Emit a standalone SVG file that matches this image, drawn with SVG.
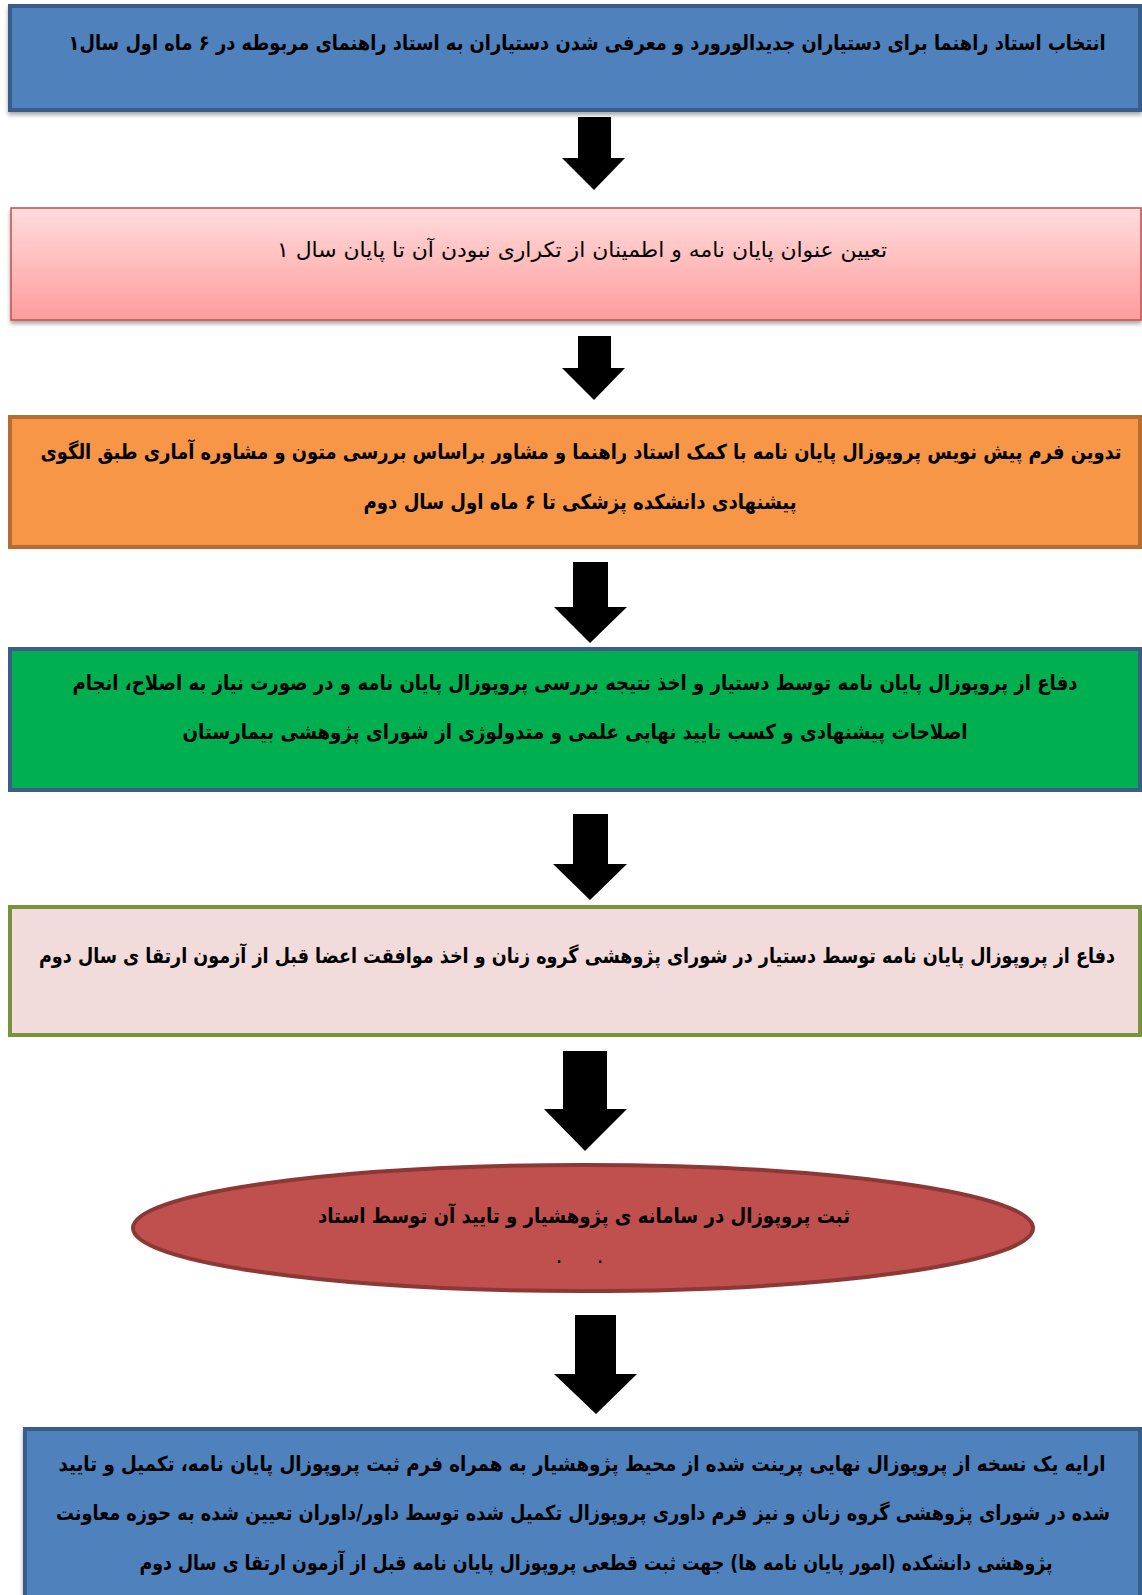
<svg xmlns="http://www.w3.org/2000/svg" width="1142" height="1595" viewBox="0 0 1142 1595">
<defs>
<linearGradient id="pinkGrad" x1="0" y1="0" x2="0" y2="1">
<stop offset="0" stop-color="#ffdcdc"/>
<stop offset="1" stop-color="#ff9c9c"/>
</linearGradient>
<filter id="shadow" x="-5%" y="-10%" width="110%" height="130%">
<feDropShadow dx="0" dy="3" stdDeviation="2" flood-color="#000" flood-opacity="0.35"/>
</filter>
</defs>
<style>
.t{font-family:"DejaVu Sans",sans-serif;font-size:18px;fill:#000;text-anchor:middle;font-weight:bold}
.tr{font-family:"DejaVu Sans",sans-serif;font-size:21px;fill:#000;text-anchor:middle}
.arrow{fill:#000}
</style>
<g id="node1">
<rect x="10" y="6" width="1130" height="104" fill="#4f81bd" stroke="#385d8a" stroke-width="4" filter="url(#shadow)"/>
<text class="t" transform="translate(587,50) scale(1,1.15)" direction="rtl" textLength="1037" lengthAdjust="spacingAndGlyphs">انتخاب استاد راهنما برای دستیاران جدیدالورورد و معرفی شدن دستیاران به استاد راهنمای مربوطه در ۶ ماه اول سال۱</text>
</g>
<g id="node2">
<rect x="11" y="208" width="1130" height="112" fill="url(#pinkGrad)" stroke="#c0504d" stroke-width="1.5" filter="url(#shadow)"/>
<text class="tr" x="582" y="257" direction="rtl" textLength="610" lengthAdjust="spacingAndGlyphs">تعیین عنوان پایان نامه و اطمینان از تکراری نبودن آن تا پایان سال ۱</text>
</g>
<g id="node3">
<rect x="10" y="417" width="1130" height="130" fill="#f79646" stroke="#b66d31" stroke-width="4"/>
<text class="t" transform="translate(581,459) scale(1,1.15)" direction="rtl" textLength="1081" lengthAdjust="spacingAndGlyphs">تدوین فرم پیش نویس پروپوزال پایان نامه با کمک استاد راهنما و مشاور براساس بررسی متون و مشاوره آماری طبق الگوی</text>
<text class="t" transform="translate(580,509) scale(1,1.15)" direction="rtl" textLength="433" lengthAdjust="spacingAndGlyphs">پیشنهادی دانشکده پزشکی تا ۶ ماه اول سال دوم</text>
</g>
<g id="node4">
<rect x="10" y="649" width="1130" height="141" fill="#00b050" stroke="#3e5c8a" stroke-width="4"/>
<text class="t" transform="translate(575,690) scale(1,1.15)" direction="rtl" textLength="1005" lengthAdjust="spacingAndGlyphs">دفاع از پروپوزال پایان نامه توسط دستیار و اخذ نتیجه بررسی پروپوزال پایان نامه و در صورت نیاز به اصلاح،  انجام</text>
<text class="t" transform="translate(575,739) scale(1,1.15)" direction="rtl" textLength="785" lengthAdjust="spacingAndGlyphs">اصلاحات پیشنهادی و کسب تایید نهایی علمی و متدولوژی از شورای پژوهشی بیمارستان</text>
</g>
<g id="node5">
<rect x="10" y="907" width="1130" height="128" fill="#f2dcdb" stroke="#77933c" stroke-width="4"/>
<text class="t" transform="translate(577,963) scale(1,1.15)" direction="rtl" textLength="1076" lengthAdjust="spacingAndGlyphs">دفاع از پروپوزال پایان نامه توسط دستیار در شورای پژوهشی گروه زنان و اخذ موافقت اعضا قبل از آزمون ارتقا ی سال دوم</text>
</g>
<g id="node6">
<ellipse cx="583" cy="1228" rx="450" ry="63" fill="#c0504d" stroke="#8c3836" stroke-width="4"/>
<text class="t" transform="translate(584,1223) scale(1,1.15)" direction="rtl" textLength="532" lengthAdjust="spacingAndGlyphs">ثبت پروپوزال در سامانه ی پژوهشیار و تایید آن توسط استاد</text>
<text class="tr" x="559" y="1263">.</text>
<text class="tr" x="600" y="1263">.</text>
</g>
<g id="node7">
<rect x="25" y="1429" width="1115" height="180" fill="#4f81bd" stroke="#385d8a" stroke-width="4" filter="url(#shadow)"/>
<text class="t" transform="translate(582,1471) scale(1,1.15)" direction="rtl" textLength="1047" lengthAdjust="spacingAndGlyphs">ارایه یک نسخه از پروپوزال نهایی پرینت شده از محیط پژوهشیار به همراه  فرم ثبت پروپوزال پایان نامه، تکمیل و تایید</text>
<text class="t" transform="translate(583,1520) scale(1,1.15)" direction="rtl" textLength="1054" lengthAdjust="spacingAndGlyphs">شده در شورای پژوهشی گروه زنان و نیز فرم داوری پروپوزال تکمیل شده توسط داور/داوران تعیین شده به حوزه معاونت</text>
<text class="t" transform="translate(596,1570) scale(1,1.15)" direction="rtl" textLength="913" lengthAdjust="spacingAndGlyphs">پژوهشی دانشکده (امور پایان نامه ها)  جهت ثبت قطعی پروپوزال پایان نامه قبل از آزمون ارتقا ی سال دوم</text>
</g>
<g id="connectors">
<polygon class="arrow" points="578,117 611,117 611,158 625,158 594,190 562,158 578,158"/>
<polygon class="arrow" points="578,336 611,336 611,368 625,368 594,400 562,368 578,368"/>
<polygon class="arrow" points="573,562 608,562 608,607 627,607 590,643 554,607 573,607"/>
<polygon class="arrow" points="573,814 608,814 608,864 627,864 590,900 553,864 573,864"/>
<polygon class="arrow" points="563,1051 607,1051 607,1109 627,1109 585,1151 544,1109 563,1109"/>
<polygon class="arrow" points="575,1315 616,1315 616,1374 637,1374 596,1414 554,1374 575,1374"/>
</g>
</svg>
